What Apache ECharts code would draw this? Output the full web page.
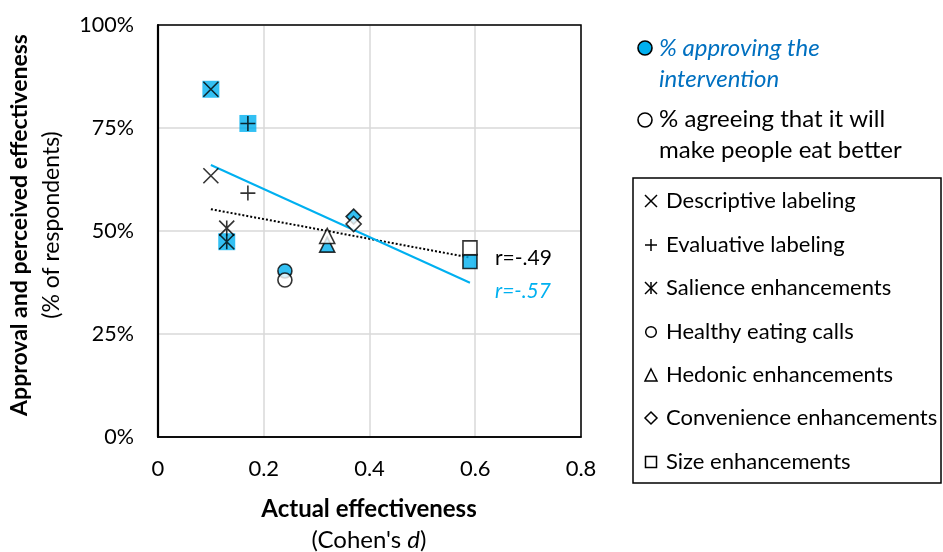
<!DOCTYPE html>
<html>
<head>
<meta charset="utf-8">
<script src="https://cdn.jsdelivr.net/npm/echarts@6/dist/echarts.min.js"></script>
<style>
html,body{margin:0;padding:0;background:#fff;}
#chart{width:943px;height:552px;}
</style>
</head>
<body>
<div id="chart"></div>
<script>
// ---- data ----
const categories = ['Descriptive labeling','Evaluative labeling','Salience enhancements','Healthy eating calls','Hedonic enhancements','Convenience enhancements','Size enhancements'];
const effectD   = [0.10, 0.17, 0.13, 0.24, 0.32, 0.37, 0.59];
const approving = [84.4, 76.1, 47.4, 40.3, 46.7, 53.5, 42.6];
const agreeing  = [63.4, 59.2, 50.7, 38.1, 48.8, 51.7, 45.9];
const rLabels   = ['r=-.49', 'r=-.57'];
const xTicks    = [0, 0.2, 0.4, 0.6, 0.8];
const yTicks    = [0, 25, 50, 75, 100];
const seriesNames = ['% approving the intervention', '% agreeing that it will make people eat better'];

// ---- styles ----
const BLUE = '#00B0F0';
const BLUE_TEXT = '#0070C0';
const FONT = 'Lato, "Liberation Sans", sans-serif';
const shapeKinds = ['cross','plus','asterisk','circle','triangle','diamond','square'];
const PATHS = {
  cross: 'path://M0,0L10,10M10,0L0,10',
  plus: 'path://M5,0L5,10M0,5L10,5',
  asterisk: 'path://M0,0L10,10M10,0L0,10M5,0L5,10'
};
const isLine = k => k === 'cross' || k === 'plus' || k === 'asterisk';
const builtin = {circle:'circle', triangle:'triangle', diamond:'diamond', square:'rect'};
const closedSize = {circle:14, triangle:15, diamond:15, square:14};

function linreg(xs, ys){
  const n = xs.length;
  const mx = xs.reduce((a,b)=>a+b,0)/n, my = ys.reduce((a,b)=>a+b,0)/n;
  let sxy=0, sxx=0;
  for(let i=0;i<n;i++){ sxy += (xs[i]-mx)*(ys[i]-my); sxx += (xs[i]-mx)*(xs[i]-mx); }
  const b = sxy/sxx, a = my - b*mx;
  const x0 = Math.min(...xs), x1 = Math.max(...xs);
  return [[x0, a+b*x0],[x1, a+b*x1]];
}

const trendAgree = linreg(effectD, agreeing);
const trendApprove = linreg(effectD, approving);

const filledBase = effectD.map((x,i)=>{
  const k = shapeKinds[i];
  if (isLine(k)) {
    return {value:[x, approving[i]], symbol:'rect', symbolSize:17, itemStyle:{color:BLUE, borderWidth:0}};
  }
  return {value:[x, approving[i]], symbol:builtin[k], symbolSize:closedSize[k], itemStyle:{color:BLUE, borderColor:'#000', borderWidth:1.6}};
});
const filledOverlay = [];
effectD.forEach((x,i)=>{
  const k = shapeKinds[i];
  if (isLine(k)) filledOverlay.push({value:[x, approving[i]], symbol:PATHS[k], symbolSize:15, itemStyle:{color:'none', borderColor:'#000', borderWidth:1.6}});
});
const openData = effectD.map((x,i)=>{
  const k = shapeKinds[i];
  if (isLine(k)) {
    return {value:[x, agreeing[i]], symbol:PATHS[k], symbolSize:15, itemStyle:{color:'none', borderColor:'#000', borderWidth:1.6}};
  }
  return {value:[x, agreeing[i]], symbol:builtin[k], symbolSize:closedSize[k], itemStyle:{color:'#fff', borderColor:'#000', borderWidth:1.6}};
});

const chart = echarts.init(document.getElementById('chart'), null, {renderer:'canvas'});

// legend graphics
const legendY = [201, 245, 288, 332, 375, 418, 462];
const iconLines = {
  cross: [[[-6,-6],[6,6]], [[6,-6],[-6,6]]],
  plus: [[[0,-6],[0,6]], [[-6,0],[6,0]]],
  asterisk: [[[-6,-6],[6,6]], [[6,-6],[-6,6]], [[0,-6],[0,6]]]
};
const iconPolys = {
  triangle: [[0,-6],[6,6],[-6,6]],
  diamond: [[0,-6],[6,0],[0,6],[-6,0]],
  square: [[-5.5,-5.5],[5.5,-5.5],[5.5,5.5],[-5.5,5.5]]
};
const graphics = [];
graphics.push({type:'rect', shape:{x:158, y:25, width:423, height:412}, style:{fill:null, stroke:'#000', lineWidth:1.5}, z:100, silent:true});
graphics.push({type:'line', shape:{x1:158, y1:25, x2:158, y2:437}, style:{stroke:'#000', lineWidth:2.2}, z:101, silent:true});
// top legend
graphics.push({type:'circle', shape:{cx:645, cy:48, r:7}, style:{fill:BLUE, stroke:'#000', lineWidth:1.6}});
graphics.push({type:'text', x:659, y:48, style:{text:'% approving the', font:'italic 24px '+FONT, fill:BLUE_TEXT, verticalAlign:'middle'}});
graphics.push({type:'text', x:659, y:79, style:{text:'intervention', font:'italic 24px '+FONT, fill:BLUE_TEXT, verticalAlign:'middle'}});
graphics.push({type:'circle', shape:{cx:645, cy:120, r:7}, style:{fill:'#fff', stroke:'#000', lineWidth:1.6}});
graphics.push({type:'text', x:659, y:119, style:{text:'% agreeing that it will', font:'24px '+FONT, fill:'#000', verticalAlign:'middle'}});
graphics.push({type:'text', x:659, y:150, style:{text:'make people eat better', font:'24px '+FONT, fill:'#000', verticalAlign:'middle'}});
// box legend
graphics.push({type:'rect', shape:{x:633, y:178, width:308, height:305}, style:{fill:null, stroke:'#000', lineWidth:1.5}});
categories.forEach((c,i)=>{
  const k = shapeKinds[i];
  const cx = 651, cy = legendY[i];
  if (k === 'circle') {
    graphics.push({type:'circle', shape:{cx:cx, cy:cy, r:5.3}, style:{fill:'#fff', stroke:'#000', lineWidth:1.5}});
  } else if (isLine(k)) {
    iconLines[k].forEach(seg=>{
      graphics.push({type:'line', shape:{x1:cx+seg[0][0], y1:cy+seg[0][1], x2:cx+seg[1][0], y2:cy+seg[1][1]}, style:{stroke:'#000', lineWidth:1.5}});
    });
  } else {
    graphics.push({type:'polygon', shape:{points:iconPolys[k].map(p=>[cx+p[0], cy+p[1]])}, style:{fill:'#fff', stroke:'#000', lineWidth:1.5}});
  }
  graphics.push({type:'text', x:666, y:cy, style:{text:c, font:'22px '+FONT, fill:'#000', verticalAlign:'middle'}});
});
// axis titles
graphics.push({type:'text', x:20, y:225, rotation:Math.PI/2, style:{text:'Approval and perceived effectiveness', font:'bold 23px '+FONT, fill:'#000', align:'center', verticalAlign:'middle'}});
graphics.push({type:'text', x:52, y:225, rotation:Math.PI/2, style:{text:'(% of respondents)', font:'23px '+FONT, fill:'#000', align:'center', verticalAlign:'middle'}});
graphics.push({type:'text', x:369, y:509, style:{text:'Actual effectiveness', font:'bold 24px '+FONT, fill:'#000', align:'center', verticalAlign:'middle'}});
graphics.push({type:'text', x:369, y:540, style:{text:"{n|(Cohen's }{i|d}{n|)}", rich:{n:{font:'24px '+FONT, fill:'#000'}, i:{font:'italic 24px '+FONT, fill:'#000'}}, align:'center', verticalAlign:'middle'}});

const option = {
  animation:false,
  backgroundColor:'#fff',
  grid:{left:158, right:362, top:25, bottom:115, containLabel:false},
  xAxis:{
    type:'value', min:xTicks[0], max:xTicks[xTicks.length-1], interval:0.2,
    axisLine:{show:true, lineStyle:{color:'#000', width:1.5}},
    axisTick:{show:false},
    splitLine:{show:true, lineStyle:{color:'#d9d9d9', width:1.5}},
    axisLabel:{margin:21, fontSize:22, fontFamily:FONT, color:'#000', formatter:v => v===0 ? '0' : v.toFixed(1)}
  },
  yAxis:{
    type:'value', min:yTicks[0], max:yTicks[yTicks.length-1], interval:25,
    axisLine:{show:true, lineStyle:{color:'#000', width:2}},
    axisTick:{show:false},
    splitLine:{show:true, lineStyle:{color:'#d9d9d9', width:1.5}},
    axisLabel:{margin:24, fontSize:21.5, fontFamily:FONT, color:'#000', formatter:'{value}%'}
  },
  series:[
    {name:'trend agree', type:'line', data:trendAgree, symbol:'none', lineStyle:{color:'#000', width:2, type:[2,2]}, z:2, silent:true},
    {name:'trend approve', type:'line', data:trendApprove, symbol:'none', lineStyle:{color:BLUE, width:2}, z:2, silent:true},
    {name:seriesNames[0], type:'scatter', data:filledBase, z:3},
    {name:seriesNames[0]+' overlay', type:'scatter', data:filledOverlay, z:4},
    {name:seriesNames[1], type:'scatter', data:openData, z:5}
  ],
  graphic:graphics
};
chart.setOption(option);

const endAgree = chart.convertToPixel({gridIndex:0}, trendAgree[1]);
const endApprove = chart.convertToPixel({gridIndex:0}, trendApprove[1]);
chart.setOption({graphic: graphics.concat([
  {type:'text', x:endAgree[0]+25, y:endAgree[1]+1, style:{text:rLabels[0], font:'21px '+FONT, fill:'#000', verticalAlign:'middle'}},
  {type:'text', x:endApprove[0]+25, y:endApprove[1]+8, style:{text:rLabels[1], font:'italic 21px '+FONT, fill:BLUE, verticalAlign:'middle'}}
])});
</script>
</body>
</html>
